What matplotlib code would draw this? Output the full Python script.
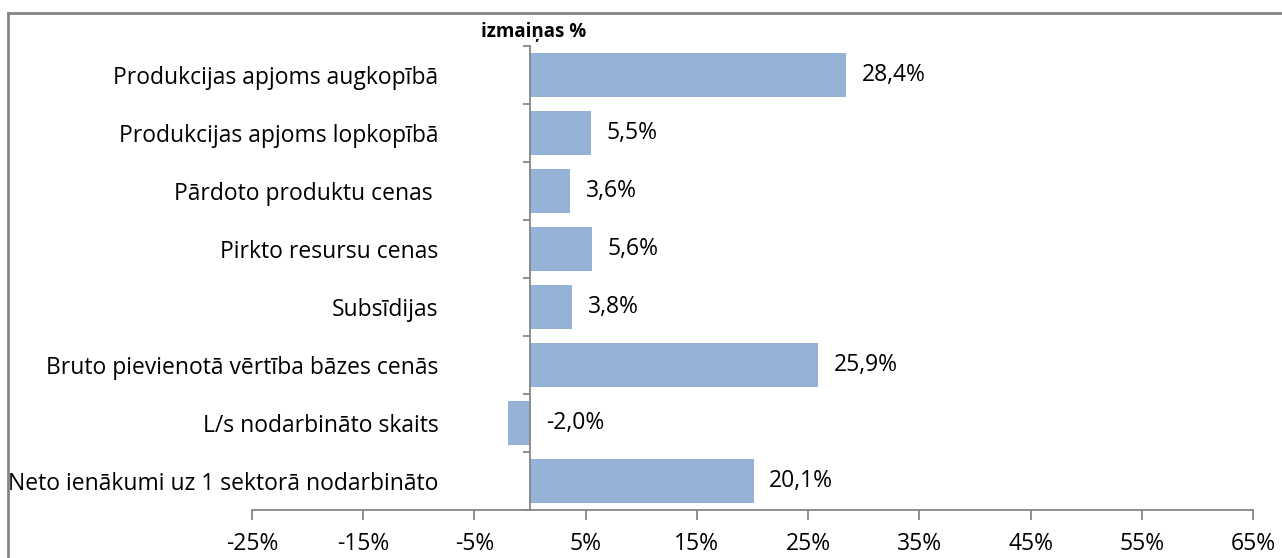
import matplotlib.pyplot as plt
from matplotlib.lines import Line2D
from matplotlib.transforms import Bbox, TransformedBbox

# dati
kategorijas = ['Produkcijas apjoms augkopībā',
               'Produkcijas apjoms lopkopībā',
               'Pārdoto produktu cenas ',
               'Pirkto resursu cenas',
               'Subsīdijas',
               'Bruto pievienotā vērtība bāzes cenās',
               'L/s nodarbināto skaits',
               'Neto ienākumi uz 1 sektorā nodarbināto']
izmainas = [28.4, 5.5, 3.6, 5.6, 3.8, 25.9, -2.0, 20.1]
x_ticks = [-25, -15, -5, 5, 15, 25, 35, 45, 55, 65]

plt.rcParams['font.family'] = ['Open Sans', 'DejaVu Sans']
pel = '#868686'
fs = 16.5

fig = plt.figure(figsize=(12.82, 5.58), dpi=100)
ax = fig.add_axes([252/1282, 1 - 510/558, (1253 - 252)/1282, (510 - 46)/558])

n = len(kategorijas)
y = list(range(n))
ax.barh(y, izmainas, height=0.76, color='#95B3D7', zorder=2)
ax.set_ylim(n - 0.5, -0.5)
ax.set_xlim(-25, 65)

for yi, v in zip(y, izmainas):
    ax.text(max(v, 0) + 1.4, yi, '{:.1f}%'.format(v).replace('.', ','),
            va='center', ha='left', fontsize=fs)

# asis
for s in ['top', 'right']:
    ax.spines[s].set_visible(False)
ax.spines['left'].set_position(('data', 0))
ax.spines['left'].set_color(pel)
ax.spines['left'].set_linewidth(1.3)
ax.spines['bottom'].set_color(pel)
ax.spines['bottom'].set_linewidth(1.3)

ax.set_xticks(x_ticks)
ax.set_xticklabels(['{}%'.format(t) for t in x_ticks])
ax.tick_params(axis='x', direction='out', length=7, width=1.3, color=pel,
               labelsize=fs, pad=9)

ax.set_yticks(y)
ax.set_yticklabels(kategorijas)
ax.set_yticks([i - 0.5 for i in range(n + 1)], minor=True)
ax.tick_params(axis='y', which='major', length=0, labelsize=fs, pad=66)
ax.tick_params(axis='y', which='minor', direction='out', length=5, width=1.3, color=pel)

clip = TransformedBbox(Bbox([[9/1282, 0], [1, 1 - 14/558]]), fig.transFigure)
for lab in ax.get_yticklabels():
    lab.set_clip_on(True)
    lab.set_clip_box(clip)

fig.text(534/1282, 1 - 32/558, 'izmaiņas %', fontsize=13.5, fontweight='bold',
         ha='center', va='center')

# rāmis
fig.add_artist(Line2D([8/1282, 8/1282], [0, 1 - 13/558], color=pel, lw=2,
                      transform=fig.transFigure))
fig.add_artist(Line2D([8/1282, 1], [1 - 13/558, 1 - 13/558], color=pel, lw=2,
                      transform=fig.transFigure))

fig.savefig('out.png', dpi=100)
